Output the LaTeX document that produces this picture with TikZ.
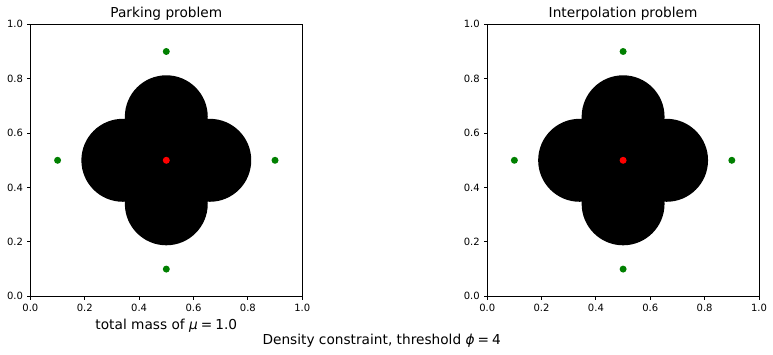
\documentclass[tikz,border=0pt]{standalone}
\usepackage{fontspec}
\setmainfont{DejaVu Sans}
\definecolor{mplgreen}{RGB}{0,128,0}
\definecolor{mplred}{RGB}{255,0,0}
\begin{document}
\begin{tikzpicture}[x=1pt,y=1pt,
  spine/.style={draw=black,line width=0.9pt},
  tickline/.style={draw=black,line width=0.9pt},
  ticklabel/.style={inner sep=0pt,font=\fontsize{10}{12}\selectfont,text=black},
  titletext/.style={inner sep=0pt,font=\fontsize{13.7}{16}\selectfont,text=black,anchor=base},
  gdot/.style={circle,fill=mplgreen,draw=none,inner sep=0pt,minimum size=7pt},
  rdot/.style={circle,fill=mplred,draw=none,inner sep=0pt,minimum size=7pt},
  blob/.style={fill=black}]
\useasboundingbox (0,0) rectangle (773,355);
\fill[white] (0,0) rectangle (773,355);
\foreach \ox/\ttl/\nm in {30.4/Parking problem/L,487.2/Interpolation problem/R}{
  \begin{scope}[shift={(\ox,58.7)},x=271.8pt,y=272pt]
    \fill[blob] (0.5,0.66) circle[radius=0.1525]
                (0.5,0.34) circle[radius=0.1525]
                (0.34,0.5) circle[radius=0.1525]
                (0.66,0.5) circle[radius=0.1525];
    \fill[blob] (0.38,0.38) rectangle (0.62,0.62);
    \draw[spine] (0,0) rectangle (1,1);
    \foreach \t in {0.0,0.2,0.4,0.6,0.8,1.0}{
      \draw[tickline] (\t,0) -- ++(0,-3.5pt) node[ticklabel,anchor=north,yshift=-3.5pt] (xt\nm\t) {\t};
      \draw[tickline] (0,\t) -- ++(-3.5pt,0) node[ticklabel,anchor=east,xshift=-3.5pt] (yt\nm\t) {\t};
    }
    \node[gdot] (gt\nm) at (0.5,0.9) {};
    \node[gdot] (gb\nm) at (0.5,0.1) {};
    \node[gdot] (gl\nm) at (0.1,0.5) {};
    \node[gdot] (gr\nm) at (0.9,0.5) {};
    \node[rdot] (rc\nm) at (0.5,0.5) {};
    \node[titletext] (title\nm) at (0.5,1) [yshift=6.8pt] {\ttl};
  \end{scope}
}
\node[titletext] (xlab) at (166.3,25) {total mass of \textit{μ}\hspace{0.22em}=\hspace{0.22em}1.0};
\node[titletext] (suptitle) at (381.7,10.7) {Density constraint, threshold \textit{ϕ}\hspace{0.22em}=\hspace{0.22em}4};
\end{tikzpicture}
\end{document}
